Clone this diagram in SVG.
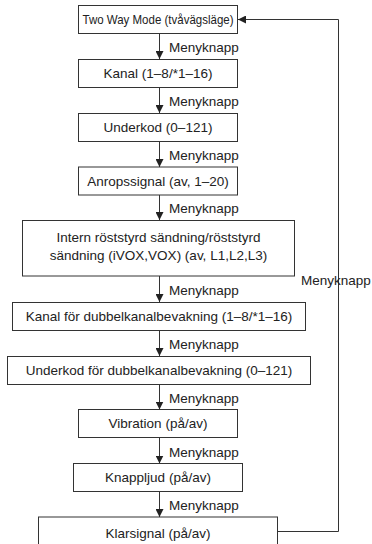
<svg xmlns="http://www.w3.org/2000/svg" width="372" height="544" viewBox="0 0 372 544">
<style>
.b{fill:#fff;stroke:#333;stroke-width:1}
.t{font-family:"Liberation Sans",Arial,sans-serif;font-size:13.5px;fill:#222;text-anchor:middle}
.l{font-family:"Liberation Sans",Arial,sans-serif;font-size:13.5px;fill:#222}
.c{fill:none;stroke:#333;stroke-width:1}
</style>
<defs>
<marker id="ah" viewBox="0 0 10 10" refX="10" refY="5" markerWidth="8" markerHeight="8" markerUnits="userSpaceOnUse" orient="auto">
<path d="M0,0 L10,5 L0,10 Z" fill="#222"/>
</marker>
</defs>
<g id="connectors">
<line class="c" x1="159.5" y1="33" x2="159.5" y2="59" marker-end="url(#ah)"/>
<line class="c" x1="159.5" y1="87" x2="159.5" y2="113" marker-end="url(#ah)"/>
<line class="c" x1="159.5" y1="141" x2="159.5" y2="167" marker-end="url(#ah)"/>
<line class="c" x1="159.5" y1="195" x2="159.5" y2="220" marker-end="url(#ah)"/>
<line class="c" x1="159.5" y1="276" x2="159.5" y2="302" marker-end="url(#ah)"/>
<line class="c" x1="159.5" y1="330" x2="159.5" y2="356" marker-end="url(#ah)"/>
<line class="c" x1="159.5" y1="384" x2="159.5" y2="409.5" marker-end="url(#ah)"/>
<line class="c" x1="159.5" y1="437.5" x2="159.5" y2="463.5" marker-end="url(#ah)"/>
<line class="c" x1="159.5" y1="491.5" x2="159.5" y2="517" marker-end="url(#ah)"/>
<polyline class="c" points="277.5,531.5 338.5,531.5 338.5,19.5 238,19.5" marker-end="url(#ah)"/>
<text class="l" x="169" y="52">Menyknapp</text>
<text class="l" x="169" y="106">Menyknapp</text>
<text class="l" x="169" y="160">Menyknapp</text>
<text class="l" x="169" y="213">Menyknapp</text>
<text class="l" x="169" y="295">Menyknapp</text>
<text class="l" x="169" y="349">Menyknapp</text>
<text class="l" x="169" y="402.5">Menyknapp</text>
<text class="l" x="169" y="456.5">Menyknapp</text>
<text class="l" x="169" y="510">Menyknapp</text>
<text class="l" x="301" y="285">Menyknapp</text>
</g>
<g id="n1"><rect class="b" x="78.5" y="5.5" width="159" height="28"/><text class="t" x="158" y="24" textLength="151" lengthAdjust="spacingAndGlyphs">Two Way Mode (tvåvägsläge)</text></g>
<g id="n2"><rect class="b" x="78.5" y="59.5" width="159" height="28"/><text class="t" x="158" y="78">Kanal (1–8/*1–16)</text></g>
<g id="n3"><rect class="b" x="78.5" y="113.5" width="159" height="28"/><text class="t" x="158" y="132">Underkod (0–121)</text></g>
<g id="n4"><rect class="b" x="78.5" y="167" width="159" height="28"/><text class="t" x="158" y="185.5">Anropssignal (av, 1–20)</text></g>
<g id="n5"><rect class="b" x="22.5" y="220.5" width="272" height="55.5"/><text class="t" x="158.5" y="242">Intern röststyrd sändning/röststyrd</text><text class="t" x="158.5" y="260">sändning (iVOX,VOX) (av, L1,L2,L3)</text></g>
<g id="n6"><rect class="b" x="12.5" y="302.5" width="293" height="28"/><text class="t" x="159" y="321">Kanal för dubbelkanalbevakning (1–8/*1–16)</text></g>
<g id="n7"><rect class="b" x="7.5" y="356.5" width="303" height="28"/><text class="t" x="159" y="375">Underkod för dubbelkanalbevakning (0–121)</text></g>
<g id="n8"><rect class="b" x="78.5" y="409.5" width="159" height="28"/><text class="t" x="158" y="428">Vibration (på/av)</text></g>
<g id="n9"><rect class="b" x="73.5" y="463.5" width="169" height="28"/><text class="t" x="158" y="482">Knappljud (på/av)</text></g>
<g id="n10"><rect class="b" x="38.5" y="517" width="239" height="28"/><text class="t" x="158" y="538">Klarsignal (på/av)</text></g>
</svg>
